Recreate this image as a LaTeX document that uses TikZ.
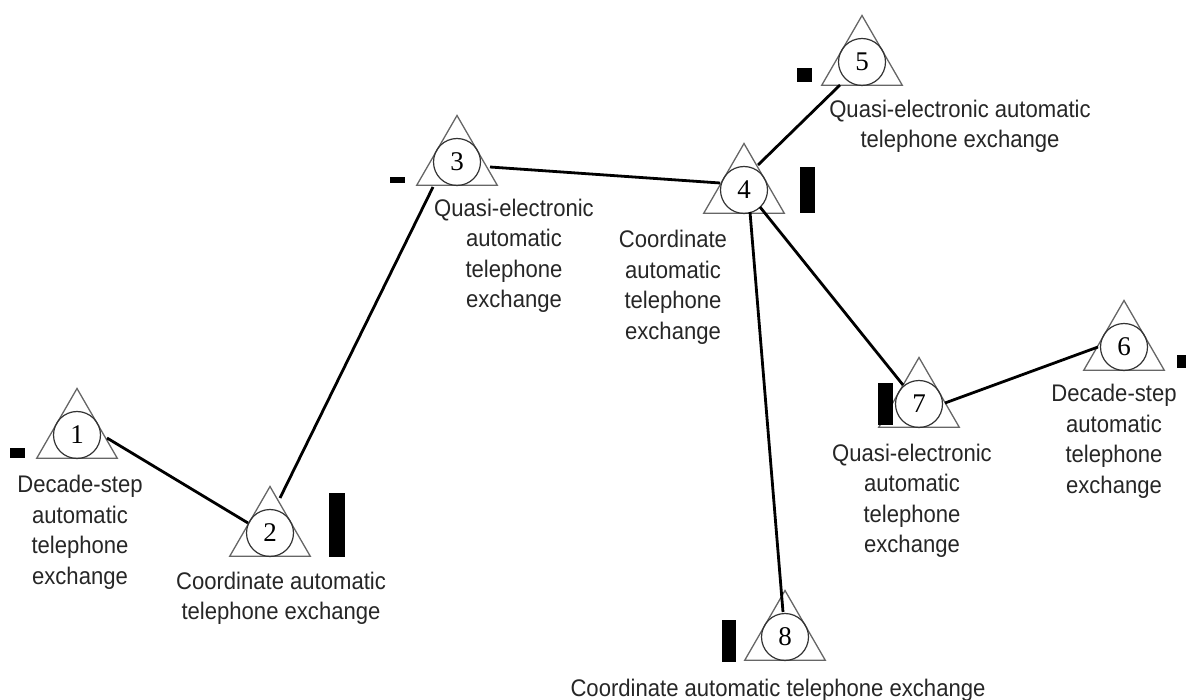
\documentclass[tikz,border=0pt]{standalone}
\usepackage{fontspec}
\setmainfont{Liberation Sans}[FakeStretch=0.92]
\newfontfamily\digitfont{Liberation Serif}
\usetikzlibrary{shapes.geometric,calc}

\begin{document}
\begin{tikzpicture}[x=1pt,y=-1pt,
  tri/.style={regular polygon, regular polygon sides=3, minimum size=93pt,
    inner sep=0pt, outer sep=0pt, draw=black!60, line width=1.3pt},
  ring/.style={circle, minimum size=47pt, inner sep=0pt, outer sep=0pt,
    draw=black!80, line width=1.2pt, font=\digitfont\fontsize{27}{27}\selectfont},
  link/.style={line width=2.8pt, black},
  bar/.style={fill=black},
  lbl/.style={align=center, font=\fontsize{24}{30.5}\selectfont,
    text=black!85, inner sep=0pt}
]
\useasboundingbox (0,0) rectangle (1186,700);

% exchanges: triangle with numbered circle
\foreach \n/\x/\y in {1/77/435, 2/270/533, 3/457/162, 4/744/190,
                      5/862/62, 6/1124/347, 7/919/404, 8/785/637} {
  \node[tri] (t\n) at (\x,\y) {};
  \node[ring] (c\n) at (\x,\y) {\n};
}

% capacity bars
\fill[bar] (10,448) rectangle (25,458);
\fill[bar] (329,493) rectangle (345,557);
\fill[bar] (390,177) rectangle (405,183);
\fill[bar] (800,167) rectangle (815,213);
\fill[bar] (797,68) rectangle (812,82);
\fill[bar] (1177,355) rectangle (1190,368);
\fill[bar] (878,383) rectangle (893,425);
\fill[bar] (722,620) rectangle (736,662);

% trunk lines
\draw[link] ($(c1)+(30,3)$) -- ($(c2)+(-22,-10)$);
\draw[link] ($(c2)+(10,-35)$) -- ($(c3)+(-24,25)$);
\draw[link] ($(c3)+(33,5)$) -- ($(c4)+(-24,-7)$);
\draw[link] ($(c4)+(14,-25)$) -- ($(c5)+(-22,23)$);
\draw[link] ($(c4)+(16,17)$) -- ($(c7)+(-16,-19)$);
\draw[link] ($(c4)+(6,22)$) -- ($(c8)+(-2,-25)$);
\draw[link] ($(c7)+(26,-1)$) -- ($(c6)+(-26,0)$);

% labels
\node[lbl] (l1) at (80,532.5) {Decade-step\\automatic\\telephone\\exchange};
\node[lbl] (l2) at (281,598.5) {Coordinate automatic\\telephone exchange};
\node[lbl] (l3) at (514,256) {Quasi-electronic\\automatic\\telephone\\exchange};
\node[lbl] (l4) at (673,287.5) {Coordinate\\automatic\\telephone\\exchange};
\node[lbl] (l5) at (960,126.5) {Quasi-electronic automatic\\telephone exchange};
\node[lbl] (l6) at (1114,441.5) {Decade-step\\automatic\\telephone\\exchange};
\node[lbl] (l7) at (912,501) {Quasi-electronic\\automatic\\telephone\\exchange};
\node[lbl] (l8) at (778,690) {Coordinate automatic telephone exchange};
\end{tikzpicture}
\end{document}
